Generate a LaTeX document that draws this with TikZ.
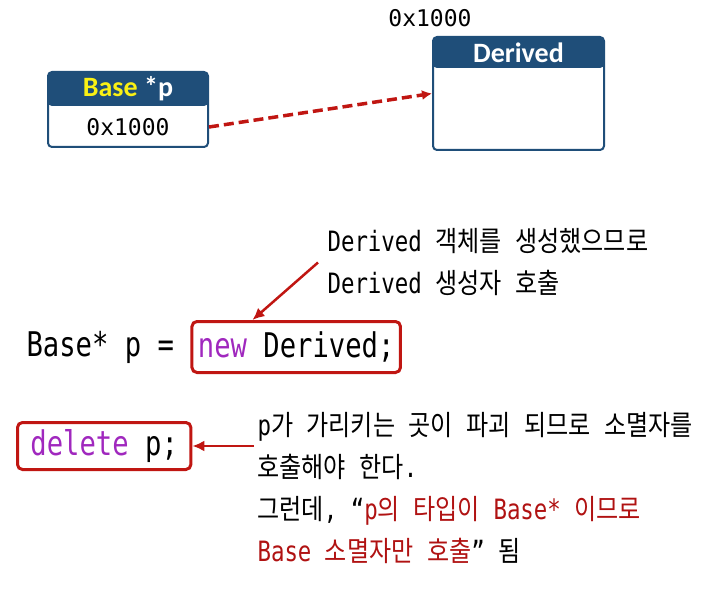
\documentclass[tikz,border=0pt]{standalone}
\usepackage{fontspec}
\setmainfont{Carlito}
\setmonofont{DejaVu Sans Mono}
\newfontfamily\codefont[FakeStretch=0.8]{DejaVu Sans Mono}
\newfontfamily\krfont[FakeStretch=0.86]{Noto Sans CJK KR}
\newcommand\kr[1]{{\krfont #1}}
\usetikzlibrary{arrows.meta,positioning}
\definecolor{hdblue}{RGB}{31,78,121}
\definecolor{hdyellow}{RGB}{250,240,20}
\definecolor{boxred}{RGB}{192,22,18}
\definecolor{txtred}{RGB}{176,18,18}
\definecolor{kwpurple}{RGB}{160,40,190}

\begin{document}
\begin{tikzpicture}[x=1pt, y=-1pt,
	objbox/.style={draw=hdblue, line width=2pt, rounded corners=4pt, fill=white},
	hdtext/.style={font=\fontsize{28}{32}\selectfont\bfseries, text=white},
	addr/.style={font=\ttfamily\fontsize{23}{26}\selectfont},
	code/.style={font=\codefont\fontsize{34}{40}\selectfont},
	note/.style={font=\codefont\fontsize{28}{42}\selectfont, align=left},
	redbox/.style={draw=boxred, line width=3pt, rounded corners=5pt},
	callout/.style={draw=boxred, line width=2.5pt, -{Latex[length=12pt,width=11pt]}}]
	\useasboundingbox (0,0) rectangle (721,615);
	% pointer and object
	\node[objbox, minimum width=160pt, minimum height=75pt,
		path picture={\fill[hdblue] (path picture bounding box.north west) rectangle ([yshift=-34pt]path picture bounding box.north east);}] (base) at (128,109.5) {};
	\node[hdtext] (basehd) at (128,89) {\textcolor{hdyellow}{Base} *p};
	\node[addr] (baseval) at (128,127) {0x1000};
	\node[objbox, minimum width=171pt, minimum height=113pt,
		path picture={\fill[hdblue] (path picture bounding box.north west) rectangle ([yshift=-31pt]path picture bounding box.north east);}] (derived) at (518.5,93.5) {};
	\node[hdtext] (derivedhd) at (518.5,53) {Derived};
	\node[addr] (derivedaddr) at (430,18) {0x1000};
	\draw[boxred, line width=3.5pt, dash pattern=on 10pt off 5pt, -{Latex[length=10pt,width=10pt]}] (base.east |- baseval) -- (derived.west);
	% new expression
	\node[note, anchor=west] (newnote) at (324,262.5) {Derived \kr{객체를} \kr{생성했으므로}\\Derived \kr{생성자} \kr{호출}};
	\node[code, anchor=west] (lhs) at (23,347) {Base* p =};
	\node[code, redbox, minimum height=51pt, inner xsep=6pt, right=13pt of lhs] (newexpr) {\textcolor{kwpurple}{new} Derived;};
	\draw[callout] ([xshift=-6pt]newnote.west) -- ([xshift=62pt]newexpr.north west);
	% delete expression
	\node[code, redbox, anchor=west, minimum height=47pt, inner xsep=13pt] (del) at (16,446) {\textcolor{kwpurple}{delete} p;};
	\node[note, anchor=west] (delnote) at (254,488) {p\kr{가} \kr{가리키는} \kr{곳이} \kr{파괴} \kr{되므로} \kr{소멸자를}\\
		\kr{호출해야} \kr{한다}.\\
		\kr{그런데}, “\textcolor{txtred}{p\kr{의} \kr{타입이} Base* \kr{이므로}}\\
		\textcolor{txtred}{Base \kr{소멸자만} \kr{호출}}” \kr{됨}};
	\draw[callout] (delnote.west |- del.east) -- (del.east);
\end{tikzpicture}
\end{document}
